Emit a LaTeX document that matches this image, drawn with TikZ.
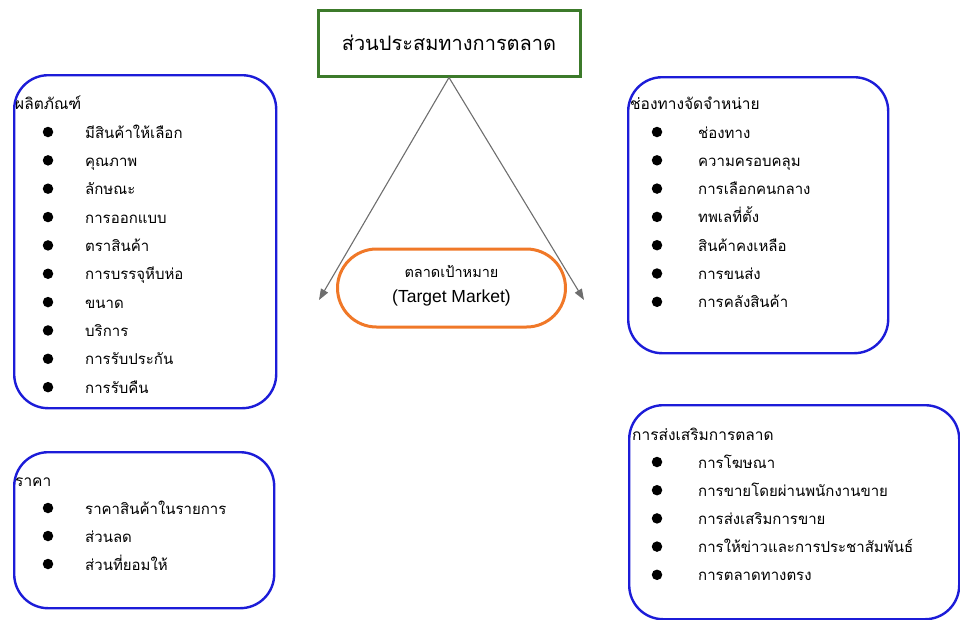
\documentclass[tikz,border=0pt]{standalone}
\usepackage{fontspec}
\newfontfamily\thaifont[Script=Thai]{Loma}
\newfontfamily\latinsans{Liberation Sans}
\usetikzlibrary{arrows.meta}
\definecolor{boxblue}{HTML}{1C1CD8}
\definecolor{boxgreen}{HTML}{3C7A2A}
\definecolor{boxorange}{HTML}{F07828}
\definecolor{arrowgray}{HTML}{6E6E6E}
\tikzset{
  bluebox/.style={draw=boxblue, line width=2.4pt, rounded corners=34pt, inner sep=0pt, anchor=north west},
  headtxt/.style={anchor=base west, inner sep=0pt, font=\thaifont\fontsize{15.5}{18}\selectfont},
  itemtxt/.style={anchor=base west, inner sep=0pt, font=\thaifont\fontsize{15}{18}\selectfont},
  bul/.style={circle, fill=black, inner sep=0pt, minimum size=10.5pt},
  conn/.style={draw=arrowgray, line width=1.1pt, -{Triangle[length=11pt,width=8pt]}},
}
\begin{document}
\begin{tikzpicture}[x=1pt,y=-1pt]
\useasboundingbox (0,0) rectangle (960,619);
\begin{scope}
\clip (0,0) rectangle (960,619);
% title
\node[draw=boxgreen, line width=3pt, minimum width=262pt, minimum height=66pt, inner sep=0pt,
      font=\thaifont\fontsize{20}{24}\selectfont] (title) at (449,43) {ส่วนประสมทางการตลาด};
% target market
\node[draw=boxorange, line width=3pt, rounded corners=39pt, minimum width=228pt, minimum height=78pt,
      inner sep=0pt] (target) at (451.5,288) {};
\node[anchor=base, inner sep=0pt, font=\thaifont\fontsize{14.5}{17}\selectfont] (targetth) at (451.5,277) {ตลาดเป้าหมาย};
\node[anchor=base, inner sep=0pt, font=\latinsans\fontsize{17.5}{20}\selectfont] (targeten) at (451.5,302) {(Target Market)};
\coordinate (tl) at (319,300);
\coordinate (tr) at (584,300);
\draw[conn] (title.south) -- (tl);
\draw[conn] (title.south) -- (tr);

% product box
\node[bluebox, minimum width=262pt, minimum height=333pt] (prod) at (13,74) {};
\node[headtxt] (prodh) at (15,109) {ผลิตภัณฑ์};
\foreach \t [count=\i] in {มีสินค้าให้เลือก,คุณภาพ,ลักษณะ,การออกแบบ,ตราสินค้า,การบรรจุหีบห่อ,ขนาด,บริการ,การรับประกัน,การรับคืน}{
  \node[bul] (pb\i) at (48,{132+28.35*(\i-1)}) {};
  \node[itemtxt] (pt\i) at (85,{138+28.35*(\i-1)}) {\t};
}

% price box
\node[bluebox, minimum width=260pt, minimum height=156pt] (price) at (13,451) {};
\node[headtxt] (priceh) at (15,486) {ราคา};
\foreach \t [count=\i] in {ราคาสินค้าในรายการ,ส่วนลด,ส่วนที่ยอมให้}{
  \node[bul] (qb\i) at (48,{508+28*(\i-1)}) {};
  \node[itemtxt] (qt\i) at (85,{514+28*(\i-1)}) {\t};
}

% place box
\node[bluebox, minimum width=260pt, minimum height=276pt] (place) at (627,76) {};
\node[headtxt] (placeh) at (630,109) {ช่องทางจัดจำหน่าย};
\foreach \t [count=\i] in {ช่องทาง,ความครอบคลุม,การเลือกคนกลาง,ทพเลที่ตั้ง,สินค้าคงเหลือ,การขนส่ง,การคลังสินค้า}{
  \node[bul] (rb\i) at (657,{132+28.3*(\i-1)}) {};
  \node[itemtxt] (rt\i) at (698,{138+28.3*(\i-1)}) {\t};
}

% promotion box
\node[bluebox, minimum width=330pt, minimum height=214pt] (promo) at (628,404) {};
\node[headtxt] (promoh) at (632,440) {การส่งเสริมการตลาด};
\foreach \t [count=\i] in {การโฆษณา,การขายโดยผ่านพนักงานขาย,การส่งเสริมการขาย,การให้ข่าวและการประชาสัมพันธ์,การตลาดทางตรง}{
  \node[bul] (sb\i) at (657,{462+28.2*(\i-1)}) {};
  \node[itemtxt] (st\i) at (698,{468+28.2*(\i-1)}) {\t};
}
\end{scope}
\end{tikzpicture}
\end{document}
